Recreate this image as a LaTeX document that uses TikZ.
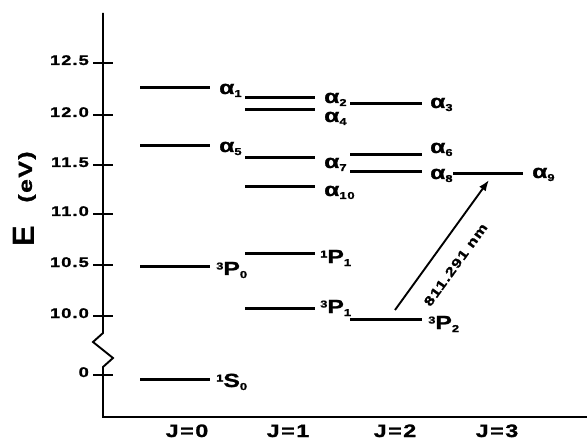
\documentclass[tikz,border=0pt]{standalone}
\usepackage{fontspec}
\usepackage{tikz}
\usetikzlibrary{arrows.meta}
\newfontfamily\figfont{Liberation Sans}[FakeStretch=1.3, LetterSpace=8, BoldFeatures={FakeBold=1.2}]
\newfontfamily\plainfont{Liberation Sans}
\newcommand{\levsub}[1]{\raisebox{-3pt}{\fontsize{10}{10}\selectfont #1}}
\newcommand{\levsup}[1]{\raisebox{5.5pt}{\fontsize{10}{10}\selectfont #1}}

\begin{document}
\begin{tikzpicture}[x=1pt, y=-1pt, font=\figfont\bfseries,
    level/.style={line width=3pt},
    lvl/.style={anchor=base west, inner sep=0pt, font=\figfont\bfseries\fontsize{19}{20}\selectfont},
    ticklab/.style={anchor=base east, inner sep=0pt, font=\figfont\bfseries\fontsize{14}{15}\selectfont},
    jlab/.style={anchor=base, inner sep=0pt, font=\figfont\bfseries\fontsize{18}{20}\selectfont}]
  \useasboundingbox (0,0) rectangle (587,441);
  % --- axes ---
  \draw[line width=1.9pt] (103,13) -- (103,333) -- (93,342) -- (113,358)
    -- (103,367) -- (103,417) -- (587,417);
  \foreach \y/\v [count=\i] in {63/12.5, 115/12.0, 165/11.5, 214/11.0, 265/10.5, 316/10.0, 375/0} {
    \draw[line width=1.4pt] (93,\y) -- (113,\y);
    \node[ticklab] (tick\i) at (89,\y+2) {\v};
  }
  \node[rotate=90, inner sep=0pt, font=\plainfont\bfseries\fontsize{31}{31}\selectfont] (E) at (24,236) {E};
  \node[rotate=90, inner sep=0pt, font=\figfont\bfseries\fontsize{19}{20}\selectfont] (unit) at (27,177) {(eV)};
  \node[jlab] (J0) at (187,437) {J=0};
  \node[jlab] (J1) at (288,437) {J=1};
  \node[jlab] (J2) at (395,437) {J=2};
  \node[jlab] (J3) at (497,437) {J=3};

  % --- J = 0 ---
  \draw[level] (140,88) -- (210,88);
  \draw[level] (140,146) -- (210,146);
  \draw[level] (140,266) -- (210,266);
  \draw[level] (140,379) -- (210,379);
  \node[lvl] (a1) at (219,94) {α\levsub{1}};
  \node[lvl] (a5) at (219,152) {α\levsub{5}};
  \node[lvl] (P0) at (216,275) {\levsup{3}P\levsub{0}};
  \node[lvl] (S0) at (216,387) {\levsup{1}S\levsub{0}};

  % --- J = 1 ---
  \draw[level] (245,98) -- (315,98);
  \draw[level] (245,110) -- (315,110);
  \draw[level] (245,158) -- (315,158);
  \draw[level] (245,187) -- (315,187);
  \draw[level] (245,254) -- (315,254);
  \draw[level] (245,308) -- (315,308);
  \node[lvl] (a2) at (324,103) {α\levsub{2}};
  \node[lvl] (a4) at (324,122) {α\levsub{4}};
  \node[lvl] (a7) at (324,168) {α\levsub{7}};
  \node[lvl] (a10) at (324,196) {α\levsub{10}};
  \node[lvl] (P1s) at (320,263) {\levsup{1}P\levsub{1}};
  \node[lvl] (P1t) at (320,313) {\levsup{3}P\levsub{1}};

  % --- J = 2 ---
  \draw[level] (350,104) -- (422,104);
  \draw[level] (350,155) -- (422,155);
  \draw[level] (350,172) -- (422,172);
  \draw[level] (350,319) -- (422,319);
  \node[lvl] (a3) at (430,108) {α\levsub{3}};
  \node[lvl] (a6) at (430,153) {α\levsub{6}};
  \node[lvl] (a8) at (430,179) {α\levsub{8}};
  \node[lvl] (P2) at (428,329) {\levsup{3}P\levsub{2}};

  % --- J = 3 ---
  \draw[level] (453,174) -- (523,174);
  \node[lvl] (a9) at (532,178) {α\levsub{9}};

  % --- transition ---
  \coordinate (from) at (395,310);
  \coordinate (to) at (489,180);
  \draw[line width=1.9pt, -{Latex[length=11pt, width=8pt]}] (from) -- node[sloped, pos=0.45,
    below=17pt, inner sep=0pt, font=\figfont\bfseries\fontsize{13}{14}\selectfont] (wl) {811.291 nm} (to);
\end{tikzpicture}
\end{document}
